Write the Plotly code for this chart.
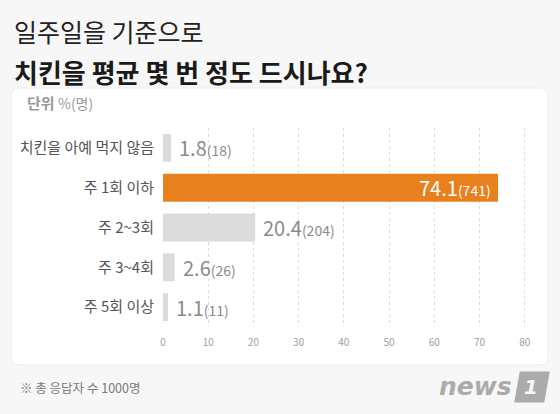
import plotly.graph_objects as go

categories = ["치킨을 아예 먹지 않음", "주 1회 이하", "주 2~3회", "주 3~4회", "주 5회 이상"]
percents = [1.8, 74.1, 20.4, 2.6, 1.1]
counts = [18, 741, 204, 26, 11]
tick_vals = [0, 10, 20, 30, 40, 50, 60, 70, 80]

W, H = 560, 414
ML, MR, MT, MB = 163, 33, 128, 87
PW, PH = W - ML - MR, H - MT - MB
FONT = "Noto Sans CJK KR"


def px(x):
    return (x - ML) / PW


def py(y):
    return (H - MB - y) / PH


highlight = max(range(len(percents)), key=lambda i: percents[i])
colors = ["#E8801E" if i == highlight else "#DCDCDC" for i in range(len(percents))]

fig = go.Figure(go.Bar(
    x=percents, y=categories, orientation="h", marker=dict(color=colors, line=dict(width=0)),
    width=0.7, hoverinfo="skip",
))

annotations = []
for i, (c, p, n) in enumerate(zip(categories, percents, counts)):
    txt = (f"<span style='font-size:20px'>{p}</span>"
           f"<span style='font-size:14px'>({n})</span>")
    if i == highlight:
        annotations.append(dict(x=p, y=c, xref="x", yref="y", text=txt, showarrow=False,
                                xanchor="right", xshift=-5, font=dict(color="white", family=FONT)))
    else:
        annotations.append(dict(x=p, y=c, xref="x", yref="y", text=txt, showarrow=False,
                                xanchor="left", xshift=6, font=dict(color="#8a8a8a", family=FONT)))

# Titles and notes
annotations += [
    dict(x=px(12), y=py(31), xref="paper", yref="paper", text="일주일을 기준으로", showarrow=False,
         xanchor="left", yanchor="middle", font=dict(size=25, color="#222222", family=FONT)),
    dict(x=px(12), y=py(71), xref="paper", yref="paper", text="<b>치킨을 평균 몇 번 정도 드시나요?</b>",
         showarrow=False, xanchor="left", yanchor="middle", font=dict(size=26, color="#1a1a1a", family=FONT)),
    dict(x=px(25), y=py(102), xref="paper", yref="paper",
         text="<b>단위</b> <span style='font-size:14px'>%(명)</span>", showarrow=False,
         xanchor="left", yanchor="middle", font=dict(size=15, color="#9a9a9a", family=FONT)),
    dict(x=px(18), y=py(387), xref="paper", yref="paper", text="※ 총 응답자 수 1000명", showarrow=False,
         xanchor="left", yanchor="middle", font=dict(size=12.5, color="#7a7a7a", family=FONT)),
    dict(x=px(514), y=py(386), xref="paper", yref="paper", text="<b><i>news</i></b>", showarrow=False,
         xanchor="right", yanchor="middle", font=dict(size=25, color="#ababab", family="DejaVu Sans")),
    dict(x=px(531), y=py(387), xref="paper", yref="paper", text="<b><i>1</i></b>", showarrow=False,
         xanchor="center", yanchor="middle", font=dict(size=20, color="#f7f7f7", family="DejaVu Sans")),
]

# rounded white panel
x0, x1, y0, y1, r = px(11), px(548), py(88), py(365), 8
rx, ry = r / PW, r / PH
path = (f"M {x0+rx},{y0} L {x1-rx},{y0} Q {x1},{y0} {x1},{y0-ry} "
        f"L {x1},{y1+ry} Q {x1},{y1} {x1-rx},{y1} L {x0+rx},{y1} Q {x0},{y1} {x0},{y1+ry} "
        f"L {x0},{y0-ry} Q {x0},{y0} {x0+rx},{y0} Z")
# slanted logo box
logo = (f"M {px(521)},{py(373)} L {px(548)},{py(373)} L {px(543)},{py(401)} "
        f"L {px(516)},{py(401)} Z")
shapes = [
    dict(type="path", path=path, xref="paper", yref="paper", fillcolor="white",
         line=dict(color="#ececec", width=1), layer="below"),
    dict(type="path", path=logo, xref="paper", yref="paper",
         fillcolor="#ababab", line=dict(color="#ababab", width=3, ), layer="below"),
]

fig.update_layout(
    width=W, height=H, margin=dict(l=ML, r=MR, t=MT, b=MB),
    paper_bgcolor="#f7f7f7", plot_bgcolor="rgba(0,0,0,0)",
    showlegend=False, annotations=annotations, shapes=shapes,
    font=dict(family=FONT),
    xaxis=dict(range=[0, 80.5], tickvals=tick_vals, showgrid=True, gridcolor="#dddddd", griddash="dot",
               gridwidth=1, zeroline=False, showline=False, ticks="", ticklabelstandoff=8,
               tickfont=dict(size=10, color="#a0a0a0"), fixedrange=True),
    yaxis=dict(categoryorder="array", categoryarray=categories[::-1], showgrid=False, zeroline=False,
               showline=False, ticks="outside", ticklen=5, tickcolor="rgba(0,0,0,0)",
               tickfont=dict(size=15, color="#555555"), fixedrange=True),
)

fig.write_html("out.html")
